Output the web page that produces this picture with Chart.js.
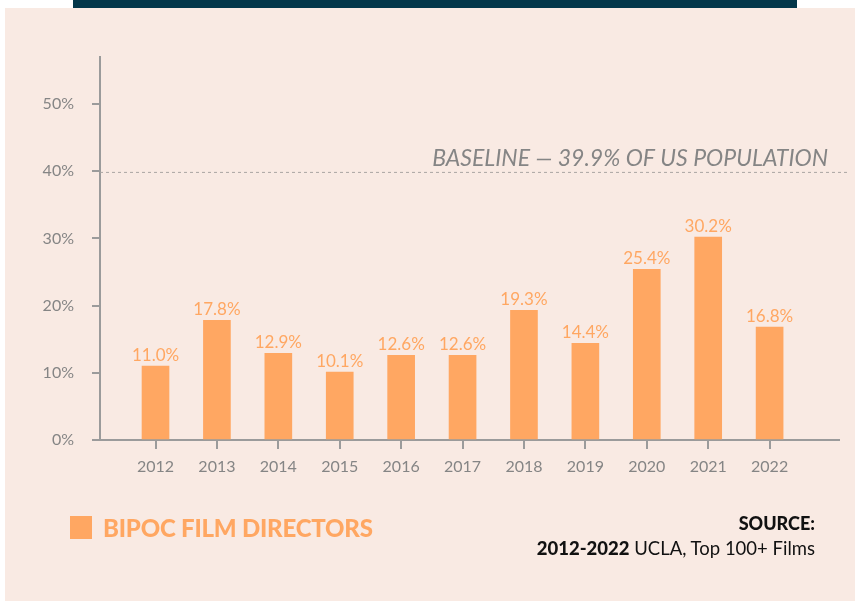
<!DOCTYPE html>
<html><head><meta charset="utf-8">
<script src="https://cdn.jsdelivr.net/npm/chart.js@4"></script>
<style>
html,body{margin:0;padding:0;background:#fff;width:857px;height:601px;overflow:hidden;position:relative;font-family:Lato,sans-serif;}
#bg{position:absolute;left:5px;top:8px;width:850px;height:593px;background:#F9EAE3;}
#band{position:absolute;left:73px;top:0;width:724px;height:8px;background:#03374A;}
#wrap{position:absolute;left:0;top:0;width:857px;height:601px;}
#legend{position:absolute;left:70px;top:513px;display:flex;align-items:center;font-family:Lato;font-weight:900;font-size:24px;color:#FFA762;letter-spacing:-0.2px;}
#legend .sw{width:22px;height:23px;background:#FFA762;margin-right:11px;}
#source{position:absolute;right:42px;top:511px;text-align:right;color:#111;font-family:Lato;}
#source .h{font-weight:900;font-size:18px;line-height:24px;}
#source .s{font-size:18.5px;line-height:26px;}
#source .s b{font-weight:900;}
</style></head>
<body>
<div id="bg"></div>
<div id="band"></div>
<div id="wrap"><canvas id="c" width="857" height="601"></canvas></div>
<div id="legend"><div class="sw"></div><span>BIPOC FILM DIRECTORS</span></div>
<div id="source"><div class="h">SOURCE:</div><div class="s"><b>2012-2022</b> UCLA, Top 100+ Films</div></div>
<script>
const years = [2012,2013,2014,2015,2016,2017,2018,2019,2020,2021,2022];
const values = [11.0,17.8,12.9,10.1,12.6,12.6,19.3,14.4,25.4,30.2,16.8];
const yTicks = [0,10,20,30,40,50];
const baselineValue = 39.9;
const baselineLabel = 'BASELINE \u2014 39.9% OF US POPULATION';
const seriesName = 'BIPOC FILM DIRECTORS';

const GRAY = '#858585';
const AXIS = '#9B9B9B';
const ORANGE = '#FFA762';

const overlay = {
  id:'overlay',
  afterDatasetsDraw(chart){
    const {ctx, chartArea, scales} = chart;
    const y = scales.y.getPixelForValue(baselineValue);
    ctx.save();
    ctx.strokeStyle = '#A9A5A3';
    ctx.lineWidth = 1;
    ctx.setLineDash([3,3]);
    ctx.beginPath();
    ctx.moveTo(chartArea.left, y + 0.5);
    ctx.lineTo(chartArea.right + 9, y + 0.5);
    ctx.stroke();
    ctx.setLineDash([]);
    ctx.fillStyle = GRAY;
    ctx.font = 'italic 23px Lato';
    ctx.textAlign = 'right';
    ctx.textBaseline = 'alphabetic';
    ctx.fillText(baselineLabel, chartArea.right - 11, y - 6);
    // data labels
    const meta = chart.getDatasetMeta(0);
    ctx.fillStyle = ORANGE;
    ctx.font = '17px Lato';
    ctx.textAlign = 'center';
    meta.data.forEach((bar,i)=>{
      ctx.fillText(values[i].toFixed(1)+'%', bar.x, bar.y - 5);
    });
    ctx.restore();
  }
};

new Chart(document.getElementById('c'), {
  type:'bar',
  data:{
    datasets:[{
      label: seriesName,
      data: years.map((yr,i)=>({x:yr, y:values[i]})),
      backgroundColor: ORANGE,
      borderWidth:0,
      barThickness:27
    }]
  },
  options:{
    responsive:false,
    animation:false,
    devicePixelRatio:1,
    layout:{padding:{left:0, top:57, right:18, bottom:0}},
    plugins:{legend:{display:false}, tooltip:{enabled:false}},
    scales:{
      x:{
        type:'linear',
        offset:false,
        min:2011.096, max:2023.13,
        afterBuildTicks(s){ s.ticks = years.map(v=>({value:v})); },
        afterFit(s){ s.height = 161; },
        grid:{offset:false, drawOnChartArea:false, drawTicks:true, tickLength:9, color:AXIS, lineWidth:2},
        border:{display:true, color:AXIS, width:2},
        ticks:{color:GRAY, font:{family:'Lato', size:16}, padding:8, callback:v=>String(v), autoSkip:false, maxRotation:0}
      },
      y:{
        type:'linear',
        min:0, max:57,
        afterBuildTicks(s){ s.ticks = yTicks.map(v=>({value:v})); },
        afterFit(s){ s.width = 100; },
        grid:{drawOnChartArea:false, drawTicks:true, tickLength:8, color:AXIS, lineWidth:2},
        border:{display:true, color:AXIS, width:2},
        ticks:{color:GRAY, font:{family:'Lato', size:16}, padding:18, callback:v=>v+'%'}
      }
    }
  },
  plugins:[overlay]
});
</script>
</body></html>
